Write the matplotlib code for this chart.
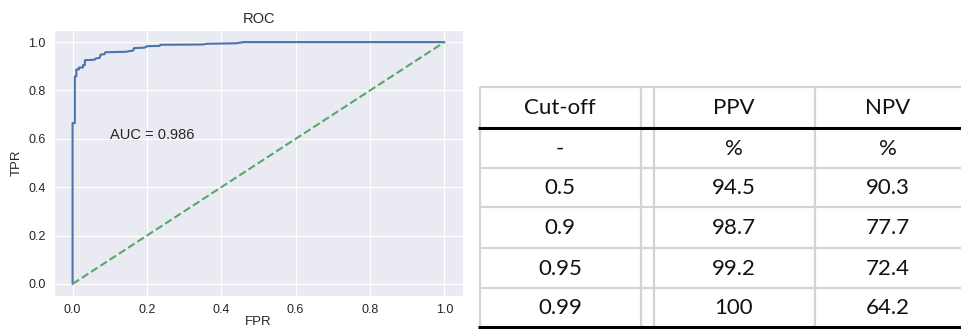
import numpy as np
import matplotlib
matplotlib.use('Agg')
import matplotlib.pyplot as plt
import seaborn as sns

# ROC curve corner points
fpr = [0.0, 0.0, 0.006, 0.006, 0.010, 0.010, 0.017, 0.017, 0.028, 0.028, 0.033, 0.033,
       0.059, 0.062, 0.073, 0.075, 0.086, 0.088, 0.145, 0.150, 0.163, 0.165, 0.194, 0.200,
       0.234, 0.236, 0.350, 0.360, 0.440, 0.460, 1.0]
tpr = [0.0, 0.665, 0.665, 0.858, 0.858, 0.887, 0.887, 0.895, 0.895, 0.905, 0.905, 0.925,
       0.927, 0.932, 0.935, 0.948, 0.950, 0.958, 0.960, 0.962, 0.965, 0.975, 0.977, 0.983,
       0.984, 0.989, 0.990, 0.993, 0.995, 1.0, 1.0]
auc = 0.986

# cut-off table
header = ['Cut-off', 'PPV', 'NPV']
units = ['-', '%', '%']
cutoffs = [0.5, 0.9, 0.95, 0.99]
ppv = [94.5, 98.7, 99.2, 100]
npv = [90.3, 77.7, 72.4, 64.2]

sns.set_style('darkgrid')
plt.rcParams['font.family'] = ['Liberation Sans', 'DejaVu Sans']
plt.rcParams['xtick.major.pad'] = 6
plt.rcParams['ytick.major.pad'] = 6

W, H = 961, 329
fig = plt.figure(figsize=(W / 100, H / 100), dpi=100)
fig.patch.set_facecolor('white')

#################################################
# table drawn in pixel coordinates

tab = fig.add_axes([0, 0, 1, 1])
tab.set_xlim(0, W)
tab.set_ylim(H, 0)
tab.axis('off')

row_edges = [87, 128, 168, 207, 248, 288, 327]
col_lines = [480, 641, 654, 815]
col_centers = [560, 734, 888]
grey = '#d4d4d4'

for y in [87, 168, 207, 248, 288]:
  tab.plot([480, W], [y, y], color=grey, lw=1.6, solid_capstyle='butt')
for x in col_lines:
  tab.plot([x, x], [87, 327], color=grey, lw=1.6, solid_capstyle='butt')
for y in [128, 327]:
  tab.plot([478, W], [y, y], color='black', lw=2.2, solid_capstyle='butt')

rows = [header, units]
for c, p, n in zip(cutoffs, ppv, npv):
  rows.append(['%g' % c, '%g' % p, '%g' % n])

for i, row in enumerate(rows):
  yc = (row_edges[i] + row_edges[i + 1]) / 2
  for xc, txt in zip(col_centers, row):
    tab.text(xc, yc + 1, txt, ha='center', va='center', fontsize=16,
             family='Lato', color='#111111')

#################################################
# ROC plot

ax = fig.add_axes([54 / W, 1 - 296 / H, (463 - 54) / W, (296 - 30) / H])
ax.plot(fpr, tpr, color='#4C72B0', lw=1.5)
ax.plot([0, 1], [0, 1], color='#55A868', lw=1.5, ls='--')
ax.text(0.1, 0.6, 'AUC = %.3f' % auc, fontsize=10.5, color='#262626')
ax.set_xlim(-0.05, 1.05)
ax.set_ylim(-0.05, 1.05)
ax.set_xticks(np.arange(0, 1.01, 0.2))
ax.set_yticks(np.arange(0, 1.01, 0.2))
ax.tick_params(labelsize=9, colors='#262626', length=0)
ax.set_title('ROC', fontsize=10.5, color='#262626', pad=5)
ax.set_xlabel('FPR', fontsize=9.5, color='#262626', labelpad=0)
ax.set_ylabel('TPR', fontsize=9.5, color='#262626')

fig.savefig('out.png', dpi=100, facecolor='white')
